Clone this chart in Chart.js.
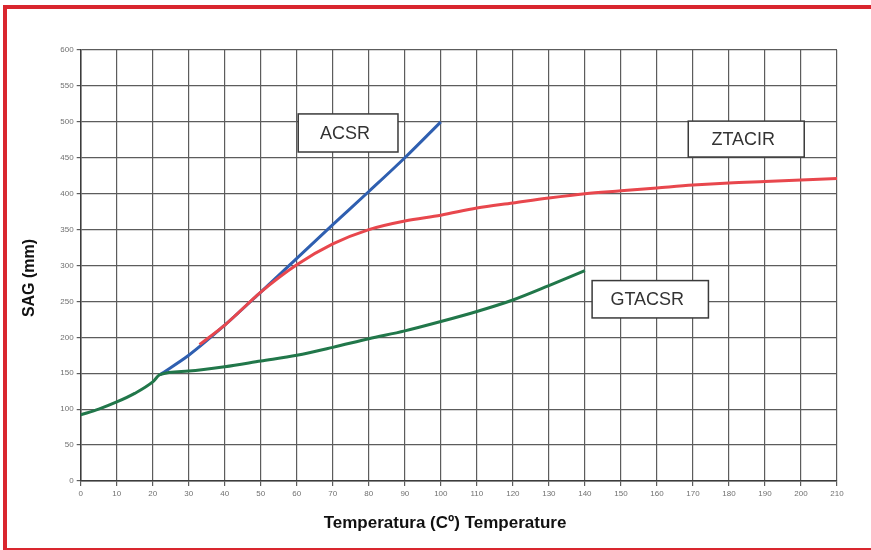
<!DOCTYPE html>
<html>
<head>
<meta charset="utf-8">
<script src="https://cdn.jsdelivr.net/npm/chart.js@4.4.1/dist/chart.umd.min.js"></script>
<style>
  html, body { margin: 0; padding: 0; background: #fff; }
  #wrap { position: relative; width: 871px; height: 550px; overflow: hidden; }
  #wrap canvas { position: absolute; left: 0; top: 0; }
  .frame { position: absolute; background: #d9262e; }
</style>
</head>
<body>
<div id="wrap">
  <canvas id="sagChart" width="871" height="550"></canvas>
  <div class="frame" style="left:3px; top:5px; width:868px; height:4px;"></div>
  <div class="frame" style="left:3px; top:5px; width:4px; height:545px;"></div>
  <div class="frame" style="left:3px; top:548px; width:868px; height:2px;"></div>
</div>
<script>
// Temperature (C) vs sag (mm)
const gtacsrTemp = [0, 5, 10, 15, 20, 22, 30, 40, 50, 60, 70, 80, 90, 100, 110, 120, 130, 140];
const gtacsrSag  = [92, 100, 110, 122, 138, 148, 153, 159, 167, 175, 186, 198, 209, 222, 236, 252, 272, 293];

const acsrTemp = [22, 30, 40, 50, 60, 70, 80, 90, 100];
const acsrSag  = [148, 175, 217, 263, 310, 357, 403, 450, 500];

const ztacirTemp = [33, 40, 50, 60, 70, 80, 90, 100, 110, 120, 130, 140, 150, 160, 170, 180, 190, 200, 210];
const ztacirSag  = [190, 217, 263, 301, 330, 350, 362, 370, 380, 387, 394, 400, 404, 408, 412, 415, 417, 419, 421];

// label boxes in data units: [text, xFrom, xTo, yTop, yBottom]
const boxLabels = [
    ['ACSR', 60.4, 88.1, 511, 458],
    ['ZTACIR', 168.7, 200.9, 501, 451],
    ['GTACSR', 142, 174.3, 279, 227]
];

const xTitle = 'Temperatura (Cº) Temperature';
const yTitle = 'SAG (mm)';

function toPoints(xs, ys) {
    return xs.map((x, i) => ({ x: x, y: ys[i] }));
}

// draws the two axis titles and the boxed series names
const labelPlugin = {
    id: 'labels',
    afterDatasetsDraw(chart) {
        const ctx = chart.ctx;
        const xs = chart.scales.x, ys = chart.scales.y;
        ctx.save();
        boxLabels.forEach(([text, x0, x1, y0, y1]) => {
            const l = xs.getPixelForValue(x0), r = xs.getPixelForValue(x1);
            const t = ys.getPixelForValue(y0), b = ys.getPixelForValue(y1);
            ctx.fillStyle = '#fff';
            ctx.fillRect(l, t, r - l, b - t);
            ctx.strokeStyle = '#3a3a3a';
            ctx.lineWidth = 1.5;
            ctx.strokeRect(l, t, r - l, b - t);
            ctx.fillStyle = '#333';
            ctx.font = '18px "Liberation Sans", Arial, sans-serif';
            ctx.textAlign = 'center';
            ctx.textBaseline = 'middle';
            ctx.fillText(text, (l + r) / 2 - 3, (t + b) / 2 + 1);
        });

        ctx.fillStyle = '#111';
        ctx.font = 'bold 17px "Liberation Sans", Arial, sans-serif';
        ctx.textAlign = 'center';
        ctx.textBaseline = 'middle';
        ctx.fillText(xTitle, 445, 523);

        ctx.font = 'bold 16px "Liberation Sans", Arial, sans-serif';
        ctx.translate(30, 278);
        ctx.rotate(-Math.PI / 2);
        ctx.fillText(yTitle, 0, 0);
        ctx.restore();
    }
};

const lineStyle = { borderWidth: 3, pointRadius: 0, tension: 0.4, cubicInterpolationMode: 'monotone', fill: false };
const tickFont = { size: 8, family: 'Arial, "Liberation Sans", sans-serif' };

new Chart(document.getElementById('sagChart').getContext('2d'), {
    type: 'line',
    data: {
        datasets: [
            Object.assign({ label: 'GTACSR', data: toPoints(gtacsrTemp, gtacsrSag), borderColor: '#21774a' }, lineStyle),
            Object.assign({ label: 'ZTACIR', data: toPoints(ztacirTemp, ztacirSag), borderColor: '#e8474d' }, lineStyle),
            Object.assign({ label: 'ACSR', data: toPoints(acsrTemp, acsrSag), borderColor: '#2f5fb0' }, lineStyle)
        ]
    },
    options: {
        responsive: false,
        animation: false,
        layout: { padding: { top: 50, right: 34, left: 0, bottom: 0 } },
        plugins: { legend: { display: false }, tooltip: { enabled: false } },
        scales: {
            x: {
                type: 'linear',
                min: 0,
                max: 210,
                afterFit: (s) => { s.height = 69; },
                ticks: { stepSize: 10, color: '#707070', font: tickFont, padding: 3, maxRotation: 0 },
                grid: { color: '#5c5c5c', lineWidth: 1.2, tickLength: 5 },
                border: { color: '#3c3c3c', width: 1.5 }
            },
            y: {
                min: 0,
                max: 600,
                afterFit: (s) => { s.width = 80.7; },
                ticks: { stepSize: 50, color: '#707070', font: tickFont, padding: 3 },
                grid: { color: '#5c5c5c', lineWidth: 1.2, tickLength: 4 },
                border: { color: '#3c3c3c', width: 1.5 }
            }
        }
    },
    plugins: [labelPlugin]
});
</script>
</body>
</html>
